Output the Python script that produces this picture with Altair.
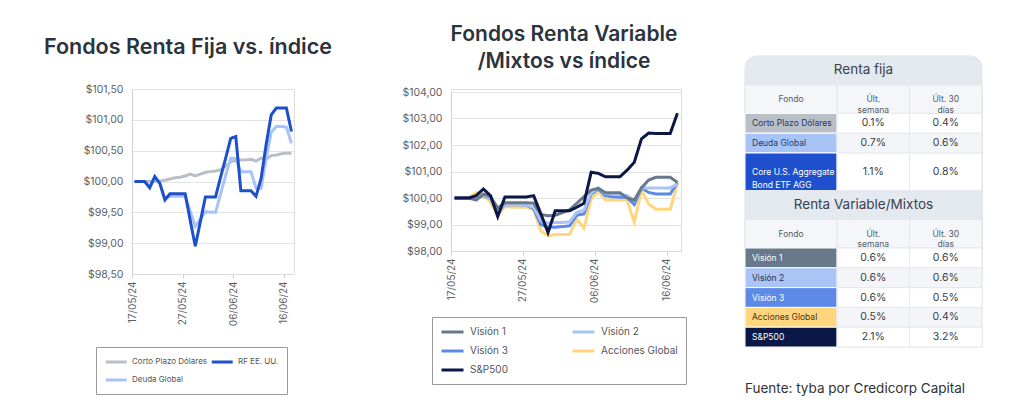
import altair as alt
import pandas as pd

FONT = "Inter"

# ---------------- dates (daily) ----------------
fechas = pd.date_range("2024-05-17", "2024-06-17", freq="D")
tick_fechas = [(2024, 5, 17), (2024, 5, 27), (2024, 6, 6), (2024, 6, 16)]

# ---------------- Renta fija (left chart) ----------------
rf_nombres = ["Corto Plazo Dólares", "RF EE. UU.", "Deuda Global"]
rf_colores = ["#b9bfc7", "#1e4fcc", "#a8c4f6"]
rf_orden_dibujo = ["Corto Plazo Dólares", "Deuda Global", "RF EE. UU."]
corto_plazo = [100.00, 100.00, 100.00, 100.00, 100.00, 100.01, 100.02, 100.04, 100.06, 100.07,
               100.09, 100.12, 100.09, 100.12, 100.15, 100.16, 100.17, 100.19, 100.25, 100.32,
               100.34, 100.35, 100.35, 100.36, 100.33, 100.38, 100.36, 100.42, 100.43, 100.45,
               100.46, 100.46]
rf_eeuu = [100.00, 100.00, 100.00, 99.90, 100.08, 99.97, 99.70, 99.80, 99.80, 99.80,
           99.80, 99.37, 98.95, 99.35, 99.75, 99.75, 99.75, 100.07, 100.38, 100.70,
           100.73, 99.85, 99.85, 99.85, 99.76, 100.05, 100.60, 101.08, 101.19, 101.19,
           101.19, 100.81]
deuda_global = [100.00, 100.00, 100.00, 99.90, 100.08, 99.97, 99.72, 99.76, 99.76, 99.76,
                99.76, 99.52, 99.27, 99.39, 99.51, 99.50, 99.50, 99.80, 100.10, 100.38,
                100.37, 100.16, 100.16, 100.16, 99.89, 99.89, 100.38, 100.80, 100.89, 100.89,
                100.88, 100.62]
rf_y_ticks = [98.5, 99.0, 99.5, 100.0, 100.5, 101.0, 101.5]

# ---------------- Renta variable (middle chart) ----------------
rv_nombres = ["Visión 1", "Visión 2", "Visión 3", "Acciones Global", "S&P500"]
rv_colores = ["#67798a", "#aac5f5", "#5d8ae6", "#ffd67d", "#0b1847"]
rv_orden_dibujo = ["Acciones Global", "Visión 3", "Visión 2", "Visión 1", "S&P500"]
vision1 = [100.00, 100.00, 100.00, 99.92, 100.15, 100.05, 99.62, 99.82, 99.82, 99.82,
           99.82, 99.80, 99.38, 99.33, 99.35, 99.45, 99.55, 99.80, 100.05, 100.30,
           100.36, 100.20, 100.20, 100.20, 100.00, 99.92, 100.38, 100.68, 100.78, 100.78,
           100.78, 100.59]
vision2 = [100.00, 100.00, 100.00, 99.97, 100.10, 100.00, 99.55, 99.75, 99.75, 99.75,
           99.72, 99.65, 99.15, 99.05, 99.08, 99.08, 99.10, 99.46, 99.55, 100.20,
           100.38, 100.17, 100.15, 100.13, 100.10, 99.90, 100.38, 100.38, 100.38, 100.38,
           100.38, 100.53]
vision3 = [100.00, 100.00, 100.00, 99.98, 100.08, 99.98, 99.50, 99.75, 99.75, 99.75,
           99.72, 99.60, 99.00, 98.90, 98.90, 98.92, 98.95, 99.35, 99.40, 100.15,
           100.34, 100.08, 100.05, 100.03, 100.02, 99.75, 100.38, 100.21, 100.15, 100.15,
           100.15, 100.59]
acciones_global = [100.00, 100.00, 100.00, 100.20, 100.10, 99.85, 99.35, 99.68, 99.65, 99.65,
                   99.65, 99.55, 98.75, 98.58, 98.62, 98.62, 98.62, 99.20, 98.86, 99.96,
                   100.25, 99.92, 99.92, 99.92, 99.92, 99.08, 100.30, 99.77, 99.58, 99.58,
                   99.58, 100.53]
sp500 = [100.00, 100.00, 100.00, 100.09, 100.34, 100.09, 99.30, 100.04, 100.04, 100.04,
         100.04, 100.09, 99.40, 98.70, 99.52, 99.52, 99.52, 99.65, 99.80, 100.97,
         100.93, 100.80, 100.80, 100.80, 101.05, 101.35, 102.23, 102.45, 102.43, 102.43,
         102.43, 103.20]
rv_y_ticks = [98, 99, 100, 101, 102, 103, 104]

# ---------------- table ----------------
tabla_secciones = ["Renta fija", "Renta Variable/Mixtos"]
tabla_encabezados = ["Fondo", "Últ.\nsemana", "Últ. 30\ndías"]
rf_tabla_fondos = ["Corto Plazo Dólares", "Deuda Global", "Core U.S. Aggregate\nBond ETF AGG"]
rf_semana = ["0.1%", "0.7%", "1.1%"]
rf_30d = ["0.4%", "0.6%", "0.8%"]
rf_celda_fill = ["#b9bfc7", "#a8c4f6", "#1e4fcc"]
rf_celda_txt = ["#26386b", "#26386b", "#ffffff"]
rv_tabla_fondos = ["Visión 1", "Visión 2", "Visión 3", "Acciones Global", "S&P500"]
rv_semana = ["0.6%", "0.6%", "0.6%", "0.5%", "2.1%"]
rv_30d = ["0.6%", "0.6%", "0.5%", "0.4%", "3.2%"]
rv_celda_fill = ["#67798a", "#aac5f5", "#5d8ae6", "#ffd67d", "#0b1847"]
rv_celda_txt = ["#ffffff", "#1f2d4d", "#ffffff", "#3a3320", "#ffffff"]
fuente = "Fuente: tyba por Credicorp Capital"

# =====================================================================
T0 = alt.DateTime(year=2024, month=5, date=17)
T1 = alt.DateTime(year=2024, month=6, date=18)
tick_dt = [alt.DateTime(year=y, month=m, date=d) for (y, m, d) in tick_fechas]
pos = fechas + pd.Timedelta(hours=12)   # observations centred in their day slot

LABEL_COLOR = "#5d6166"
TITLE_COLOR = "#2b333d"
y_label_expr = "'$' + replace(format(datum.value, '.2f'), '.', ',')"
# legend line symbol drawn from the left edge of its slot, twice the slot width
LINE_SYMBOL = "M-1,0L3,0"


def x_axis():
    return alt.Axis(values=tick_dt, format="%d/%m/%y", labelAngle=270, labelAlign="right",
                    labelBaseline="middle", grid=False, ticks=True, tickSize=4,
                    tickColor="#cfcfcf", domain=True, domainColor="#dadada",
                    labelFont=FONT, labelFontSize=10, labelColor=LABEL_COLOR,
                    labelPadding=3, labelFlush=False, labelOverlap=False, title=None)


def y_axis(vals):
    return alt.Axis(values=vals, labelExpr=y_label_expr, grid=True, gridColor="#e3e3e3",
                    gridWidth=1, ticks=False, domain=True, domainColor="#d2d2d2",
                    labelFont=FONT, labelFontSize=10.5, labelColor=LABEL_COLOR,
                    labelPadding=9, title=None)


def line_chart(df, nombres, colores, orden, yscale, yvals, legend, width, height, title):
    cscale = alt.Scale(domain=nombres, range=colores)
    base = alt.Chart(df)
    layers = []
    for n in orden:
        layers.append(
            base.transform_filter(alt.datum.fondo == n)
            .mark_line(strokeWidth=3)
            .encode(
                x=alt.X("fecha:T", scale=alt.Scale(domain=[T0, T1]), axis=x_axis()),
                y=alt.Y("valor:Q", scale=yscale, axis=y_axis(yvals)),
                color=alt.Color("fondo:N", scale=cscale, legend=legend),
            )
        )
    return alt.layer(*layers).properties(width=width, height=height, title=title)


rf_df = pd.DataFrame({"fecha": pos, "Corto Plazo Dólares": corto_plazo,
                      "RF EE. UU.": rf_eeuu, "Deuda Global": deuda_global}
                     ).melt("fecha", var_name="fondo", value_name="valor")
rv_df = pd.DataFrame({"fecha": pos, "Visión 1": vision1, "Visión 2": vision2,
                      "Visión 3": vision3, "Acciones Global": acciones_global,
                      "S&P500": sp500}).melt("fecha", var_name="fondo", value_name="valor")

left_legend = alt.Legend(title=None, orient="none", legendX=-36, legendY=258, columns=2,
                         direction="horizontal",
                         symbolType=LINE_SYMBOL, symbolSize=110, symbolStrokeWidth=3,
                         labelFont=FONT, labelFontSize=8, labelColor="#555",
                         strokeColor="#9a9a9a", fillColor="white", padding=8,
                         columnPadding=-3, rowPadding=5, labelOffset=14)
mid_legend = alt.Legend(title=None, orient="none", legendX=-19, legendY=228, columns=2,
                        direction="horizontal",
                        symbolType=LINE_SYMBOL, symbolSize=121, symbolStrokeWidth=3,
                        labelFont=FONT, labelFontSize=10, labelColor="#555",
                        strokeColor="#9a9a9a", fillColor="white", padding=8,
                        columnPadding=58, rowPadding=6, labelOffset=16)

left = line_chart(
    rf_df, rf_nombres, rf_colores, rf_orden_dibujo,
    alt.Scale(domain=[98.5, 101.5], nice=False, zero=False), rf_y_ticks, left_legend,
    162, 185,
    alt.TitleParams(text="Fondos Renta Fija vs. índice", anchor="start", frame="group",
                    dx=-88, offset=26, fontSize=21.5, fontWeight=600, font=FONT,
                    color=TITLE_COLOR),
)
mid = line_chart(
    rv_df, rv_nombres, rv_colores, rv_orden_dibujo,
    alt.Scale(domain=[98, 104], nice=False, zero=False, range=[162, 3]), rv_y_ticks,
    mid_legend, 230, 162,
    alt.TitleParams(text=["Fondos Renta Variable", "/Mixtos vs índice"], anchor="middle",
                    frame="group", dx=-2, offset=15, fontSize=21, lineHeight=27,
                    fontWeight=600, font=FONT, color=TITLE_COLOR),
)

# ---------------- table build (unit grid) ----------------
col_pesos = [1.27, 1.0, 1.0]
edges = [0.0]
for w in col_pesos:
    edges.append(edges[-1] + w)
W = edges[-1]
H_TIT = 1.45
H_HDR = 1.45

rect_rows, text_rows = [], []
y = 0.0
secciones = [
    (tabla_secciones[0], rf_tabla_fondos, rf_semana, rf_30d, rf_celda_fill, rf_celda_txt),
    (tabla_secciones[1], rv_tabla_fondos, rv_semana, rv_30d, rv_celda_fill, rv_celda_txt),
]
for si, (tit, fondos, sem, d30, fills, tcols) in enumerate(secciones):
    rect_rows.append(dict(x0=0, x1=W, y0=y, y1=y + H_TIT, fill="#e4e8ef", stroke="#e4e8ef",
                          g="t0" if si == 0 else "c"))
    text_rows.append(dict(x=W / 2, y=y + H_TIT / 2, t=tit, k="sec", col="#39424e"))
    y += H_TIT
    for c in range(3):
        rect_rows.append(dict(x0=edges[c], x1=edges[c + 1], y0=y, y1=y + H_HDR,
                              fill="#f4f6f9", stroke="#e3e6eb", g="c"))
        text_rows.append(dict(x=(edges[c] + edges[c + 1]) / 2, y=y + H_HDR / 2,
                              t=tabla_encabezados[c], k="hdr", col="#555b63"))
    y += H_HDR
    for i, f in enumerate(fondos):
        nl = f.count("\n") + 1
        rh = 1 + 0.9 * (nl - 1)
        rect_rows.append(dict(x0=edges[0], x1=edges[1], y0=y, y1=y + rh, fill=fills[i],
                              stroke="#ffffff", g="c"))
        text_rows.append(dict(x=edges[0], y=y + rh / 2, t=f, k="name", col=tcols[i]))
        vfill = "#ffffff" if i % 2 == 0 else "#f3f5f9"
        for c, v in ((1, sem[i]), (2, d30[i])):
            rect_rows.append(dict(x0=edges[c], x1=edges[c + 1], y0=y, y1=y + rh,
                                  fill=vfill, stroke="#e6e8ed", g="c"))
            text_rows.append(dict(x=(edges[c] + edges[c + 1]) / 2, y=y + rh / 2, t=v,
                                  k="val", col="#3a3d42"))
        y += rh
TOTAL = y
text_rows.append(dict(x=0, y=TOTAL + 2.1, t=fuente, k="src", col="#2f3338"))

rects = pd.DataFrame(rect_rows)
texts = pd.DataFrame(text_rows)
card = pd.DataFrame([dict(x0=0, x1=W, y0=0, y1=TOTAL)])

xs = alt.Scale(domain=[0, W], range=[-93, 144], nice=False, zero=False)
ys = alt.Scale(domain=[0, TOTAL], range=[-33, 258], nice=False, zero=False)


def rect_enc(ch):
    return ch.encode(x=alt.X("x0:Q", scale=xs, axis=None), x2="x1:Q",
                     y=alt.Y("y0:Q", scale=ys, axis=None), y2="y1:Q")


card_l = rect_enc(alt.Chart(card).mark_rect(fill="white", stroke="#dfe3e9", strokeWidth=1,
                                            cornerRadiusTopLeft=12, cornerRadiusTopRight=12))
t0_l = rect_enc(alt.Chart(rects).transform_filter(alt.datum.g == "t0").mark_rect(
    cornerRadiusTopLeft=12, cornerRadiusTopRight=12)).encode(
    fill=alt.Fill("fill:N", scale=None))
cells_l = rect_enc(alt.Chart(rects).transform_filter(alt.datum.g == "c").mark_rect(
    strokeWidth=1)).encode(fill=alt.Fill("fill:N", scale=None),
                           stroke=alt.Stroke("stroke:N", scale=None))


def text_layer(kind, **kw):
    return alt.Chart(texts).transform_filter(alt.datum.k == kind).mark_text(
        font=FONT, lineBreak="\n", baseline="middle", **kw).encode(
        x=alt.X("x:Q", scale=xs, axis=None), y=alt.Y("y:Q", scale=ys, axis=None),
        text="t:N", color=alt.Color("col:N", scale=None))


tab = alt.layer(
    card_l, t0_l, cells_l,
    text_layer("sec", fontSize=13.5, align="center"),
    text_layer("hdr", fontSize=8.5, align="center", lineHeight=10.5),
    text_layer("name", fontSize=8.5, align="left", dx=7, lineHeight=13),
    text_layer("val", fontSize=10.5, align="center"),
    text_layer("src", fontSize=13.5, align="left"),
).properties(width=144, height=185)

chart = (
    alt.hconcat(left, mid, tab, spacing=157, bounds="flush")
    .resolve_scale(x="independent", y="independent", color="independent")
    .resolve_legend(color="independent")
    .properties(padding={"left": 43, "top": 23, "right": 5, "bottom": 5})
    .configure_view(strokeWidth=0)
    .configure(font=FONT, background="white")
)

chart.save("out.html", embed_options={"renderer": "svg", "actions": False})
